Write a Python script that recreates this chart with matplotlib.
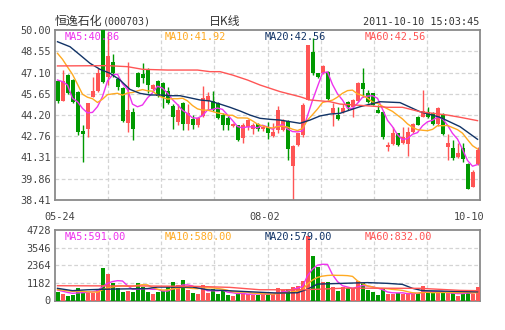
import numpy as np
import pandas as pd
import matplotlib
matplotlib.use("Agg")
import matplotlib.pyplot as plt

# ---------------- data ----------------
opens = [46.52, 45.18, 46.93, 46.59, 45.80, 43.11, 43.23, 45.45, 45.84, 50.00,
         46.82, 47.80, 46.64, 46.02, 43.68, 44.43, 47.09, 47.00, 47.27, 45.98,
         46.52, 46.41, 45.84, 44.82, 43.75, 45.05, 43.57, 43.93, 43.52, 44.14,
         45.16, 45.16, 45.05, 44.20, 43.98, 43.45, 43.52, 42.61, 43.36, 43.23,
         43.59, 43.23, 43.41, 42.77, 43.18, 43.18, 43.82, 40.73, 42.16, 42.84,
         45.23, 48.52, 47.09, 47.09, 47.16, 44.32, 44.20, 44.43, 45.11, 44.77,
         45.18, 46.36, 45.68, 45.68, 44.55, 44.43, 42.00, 42.23, 42.95, 42.27,
         42.23, 43.07, 44.05, 44.09, 44.43, 44.32, 43.59, 44.20, 42.00, 41.98,
         41.32, 41.98, 40.86, 39.32, 40.86]
highs = [46.59, 47.27, 47.00, 46.65, 45.85, 43.52, 45.05, 46.82, 47.39, 50.00,
         49.86, 48.36, 46.82, 46.09, 47.80, 44.66, 47.16, 47.73, 47.39, 46.30,
         46.59, 46.48, 46.14, 44.95, 44.95, 45.10, 44.95, 44.20, 44.10, 46.18,
         45.80, 45.84, 45.10, 44.32, 44.14, 43.65, 43.55, 43.68, 43.91, 43.64,
         43.65, 43.50, 43.75, 43.68, 44.82, 43.90, 43.86, 42.16, 43.00, 45.00,
         49.00, 49.43, 47.10, 47.60, 47.20, 45.00, 44.77, 44.95, 45.18, 45.27,
         46.48, 47.43, 45.91, 45.73, 44.89, 44.50, 42.39, 43.41, 43.00, 43.36,
         43.41, 43.68, 44.14, 45.91, 44.77, 44.43, 44.77, 44.32, 42.91, 42.50,
         42.27, 42.32, 40.90, 40.45, 42.05]
lows = [45.05, 45.16, 45.64, 45.05, 42.84, 40.98, 42.73, 45.41, 45.80, 46.36,
        46.25, 46.82, 45.91, 43.75, 43.07, 42.50, 46.09, 46.36, 45.68, 45.90,
        45.41, 44.66, 44.95, 43.25, 43.52, 43.18, 43.18, 43.25, 43.40, 44.05,
        44.55, 44.50, 43.91, 43.18, 43.18, 43.40, 42.45, 42.27, 43.18, 42.91,
        43.10, 43.10, 42.55, 42.70, 42.95, 43.10, 41.14, 38.41, 42.10, 42.70,
        45.20, 46.93, 46.70, 47.00, 45.20, 43.48, 43.86, 44.32, 44.55, 44.09,
        45.11, 45.45, 45.00, 44.86, 44.32, 42.60, 41.77, 42.16, 42.10, 42.23,
        41.41, 42.95, 43.50, 44.05, 43.98, 43.55, 43.45, 42.84, 41.14, 41.14,
        41.25, 41.02, 39.14, 39.30, 40.80]
closes = [45.16, 46.52, 45.68, 45.11, 43.07, 42.89, 45.00, 45.84, 47.09, 46.48,
          48.23, 47.05, 46.09, 43.82, 44.55, 43.23, 46.14, 46.70, 46.25, 46.25,
          45.52, 45.45, 45.00, 44.05, 44.55, 43.59, 44.32, 43.52, 43.98, 45.39,
          45.50, 44.55, 43.98, 43.52, 43.52, 43.59, 42.50, 43.52, 43.86, 43.52,
          43.23, 43.41, 42.95, 43.07, 44.55, 43.82, 41.86, 42.09, 42.95, 44.89,
          48.98, 47.09, 46.82, 47.55, 45.30, 44.66, 43.91, 44.70, 44.77, 45.23,
          46.41, 45.95, 45.11, 44.89, 44.36, 42.68, 42.16, 42.95, 42.16, 42.68,
          43.07, 43.59, 43.52, 44.48, 44.05, 43.59, 44.70, 42.91, 42.32, 41.25,
          41.64, 41.20, 39.14, 40.34, 41.82]
volumes = [592, 436, 302, 369, 860, 659, 525, 525, 704, 2202,
           1777, 1151, 816, 592, 637, 592, 1196, 928, 592, 436,
           592, 659, 883, 1240, 1039, 1375, 704, 525, 458, 1039,
           525, 749, 436, 704, 391, 324, 458, 525, 436, 400,
           400, 420, 436, 436, 816, 704, 771, 928, 972, 1308,
           4325, 2984, 2269, 1263, 1263, 883, 659, 900, 816, 816,
           1308, 1196, 700, 570, 400, 771, 414, 436, 525, 436,
           480, 460, 480, 972, 525, 525, 480, 525, 480, 480,
           320, 525, 704, 436, 900]
prior_closes = [50.60, 50.90, 50.20, 49.80, 49.65, 47.07, 46.83, 49.66, 44.23]
prior_volumes = [760, 820, 700, 780, 720, 850, 700, 680, 700]

ma20_idx = [0, 2.5, 4.5, 6.5, 8.5, 10.5, 12.5, 14.5, 16.5, 18.5, 20.5, 22.5, 24.5,
            28.5, 30.5, 32.5, 34.5, 36.5, 38.5, 40.5, 42.5, 44.5, 46.5, 48.5,
            50.5, 52.5, 54.5, 56.5, 60.5, 64.5, 68.5, 72.5, 76.5, 80.5, 84]
ma20_val = [49.20, 48.86, 48.30, 47.73, 47.32, 47.05, 46.59, 45.95, 45.68, 45.57,
            45.57, 45.52, 45.52, 45.23, 45.16, 44.95, 44.73, 44.48, 44.20, 43.98,
            43.91, 43.86, 43.75, 43.64, 43.86, 44.14, 44.27, 44.32, 44.77, 45.11,
            45.05, 44.43, 44.05, 43.41, 42.55]
ma60_idx = [0, 10, 14, 17, 22, 28, 30.5, 32.5, 35, 38, 40.5, 44.5, 48.5, 50.5,
            54.5, 56.5, 62.5, 66, 69, 72.5, 78, 80.5, 84]
ma60_val = [47.55, 47.57, 47.50, 47.32, 47.27, 47.27, 47.16, 47.16, 46.93, 46.59,
            46.25, 45.80, 45.45, 45.23, 45.11, 44.95, 44.82, 44.73, 44.73, 44.43,
            44.20, 44.05, 43.82]
vma20_idx = [0, 3, 6, 10, 18, 20, 27, 30, 34, 40, 44, 48, 50, 52, 62, 66, 69, 71, 73, 84]
vma20_val = [816, 660, 720, 760, 800, 900, 900, 720, 660, 560, 500, 520, 760, 1100,
             1200, 1150, 1080, 816, 660, 579]
vma60_idx = [0, 18.5, 27.5, 34.5, 40.5, 48.5, 52.5, 57.5, 72.5, 80.5, 84]
vma60_val = [990, 970, 950, 880, 720, 720, 760, 830, 816, 680, 660]

date_labels = ["05-24", "08-02", "10-10"]
date_label_idx = [0, 41, 84]
price_ticks = [38.41, 39.86, 41.31, 42.76, 44.20, 45.65, 47.10, 48.55, 50.00]
vol_ticks = [0, 1182, 2364, 3546, 4728]
ma_labels = ["MA5:40.86", "MA10:41.92", "MA20:42.56", "MA60:42.56"]
vma_labels = ["MA5:591.00", "MA10:580.00", "MA20:579.00", "MA60:832.00"]
ma_colors = ["#ee33ee", "#ffaa22", "#113366", "#ff5555"]
title_name = "恒逸石化"
title_code = "(000703)"
chart_kind = "日K线"
timestamp = "2011-10-10 15:03:45"

RED = "#ff5555"
GREEN = "#009900"
MONO = "DejaVu Sans Mono"
CJK = ["Noto Sans CJK SC", "DejaVu Sans"]

# ---------------- figure ----------------
W, H = 505, 330
fig = plt.figure(figsize=(W / 100, H / 100), dpi=100)
fig.patch.set_facecolor("white")

def px_axes(l, t, r, b):
    return fig.add_axes([l / W, 1 - b / H, (r - l) / W, (b - t) / H])

ax = px_axes(55, 30, 480, 200)
axv = px_axes(55, 230, 480, 300.5)

n = len(closes)
x = np.arange(n)
xlim = (-0.5, n - 0.5)

o = np.array(opens); c = np.array(closes); hi = np.array(highs); lo = np.array(lows)
up = c >= o
cols = np.where(up, RED, GREEN)

cser = pd.Series(list(prior_closes) + list(closes))
ma5 = cser.rolling(5).mean().values[len(prior_closes):]
ma10 = cser.rolling(10).mean().values[len(prior_closes):]
vser = pd.Series(list(prior_volumes) + list(volumes))
vma5 = vser.rolling(5).mean().values[len(prior_volumes):]
vma10 = vser.rolling(10).mean().values[len(prior_volumes):]

for a in (ax, axv):
    a.set_xlim(*xlim)
    for s in a.spines.values():
        s.set_color("#8a8a8a")
        s.set_linewidth(1.3)
    a.tick_params(length=0, labelsize=7.4, colors="#444444", pad=3)
    for xv in np.linspace(xlim[0], xlim[1], 9)[1:-1]:
        a.axvline(xv, color="#d4d4d4", lw=0.9, ls=(0, (3, 2)), zorder=0)
    a.set_xticks([])

ax.set_ylim(price_ticks[0], price_ticks[-1])
ax.set_yticks(price_ticks)
ax.set_yticklabels([f"{t:.2f}" for t in price_ticks], family=MONO)
for yv in price_ticks[1:-1]:
    ax.axhline(yv, color="#d4d4d4", lw=0.9, ls=(0, (3, 2)), zorder=0)

ax.vlines(x, lo, hi, colors=cols, lw=1.0, zorder=2)
body_bottom = np.minimum(o, c)
body_h = np.maximum(np.abs(c - o), 0.04)
ax.bar(x, body_h, bottom=body_bottom, width=0.8, color=cols, linewidth=0, zorder=3)

ax.plot(x, ma5, color=ma_colors[0], lw=1.0, zorder=4)
ax.plot(x, ma10, color=ma_colors[1], lw=1.0, zorder=4)
ax.plot(ma20_idx, ma20_val, color=ma_colors[2], lw=1.0, zorder=4)
ax.plot(ma60_idx, ma60_val, color=ma_colors[3], lw=1.0, zorder=4)

for k, (lab, col) in enumerate(zip(ma_labels, ma_colors)):
    ax.text((10 + 100 * k) / 425, 0.961, lab, transform=ax.transAxes, color=col,
            family=MONO, fontsize=7.4, ha="left", va="center", zorder=6)

axv.set_ylim(vol_ticks[0], vol_ticks[-1])
axv.set_yticks(vol_ticks)
axv.set_yticklabels([str(t) for t in vol_ticks], family=MONO)
for yv in vol_ticks[1:-1]:
    axv.axhline(yv, color="#d4d4d4", lw=0.9, ls=(0, (3, 2)), zorder=0)
axv.bar(x, volumes, width=0.8, color=cols, linewidth=0, zorder=3)
axv.plot(x, vma5, color=ma_colors[0], lw=1.0, zorder=4)
axv.plot(x, vma10, color=ma_colors[1], lw=1.0, zorder=4)
axv.plot(vma20_idx, vma20_val, color=ma_colors[2], lw=1.0, zorder=4)
axv.plot(vma60_idx, vma60_val, color=ma_colors[3], lw=1.0, zorder=4)
for k, (lab, col) in enumerate(zip(vma_labels, ma_colors)):
    axv.text((10 + 100 * k) / 425, 0.9, lab, transform=axv.transAxes, color=col,
             family=MONO, fontsize=7.4, ha="left", va="center", zorder=6)

for lab, idx in zip(date_labels, date_label_idx):
    if idx == n - 1:
        ax.annotate(lab, (1.0, 0), xycoords="axes fraction", xytext=(4, -17),
                    textcoords="offset pixels", ha="right", va="center",
                    family=MONO, fontsize=7.4, color="#444444")
    else:
        ax.annotate(lab, (idx, 0), xycoords=("data", "axes fraction"), xytext=(2, -17),
                    textcoords="offset pixels", ha="center", va="center",
                    family=MONO, fontsize=7.4, color="#444444")

fig.text(55 / W, 1 - 22 / H, title_name, family=CJK, fontsize=8.6, color="#333333",
         ha="left", va="center")
fig.text(103 / W, 1 - 22 / H, title_code, family=MONO, fontsize=7.2, color="#333333",
         ha="left", va="center")
fig.text(225 / W, 1 - 22 / H, chart_kind, family=CJK, fontsize=8.6, color="#333333",
         ha="center", va="center")
fig.text(479 / W, 1 - 22 / H, timestamp, family=MONO, fontsize=7.3, color="#333333",
         ha="right", va="center")

fig.savefig("out.png", dpi=100, facecolor="white")
